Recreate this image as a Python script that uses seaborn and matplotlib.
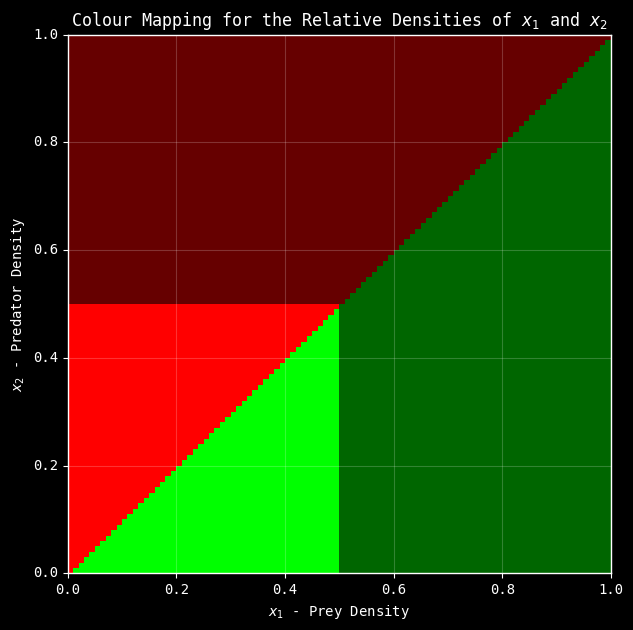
import numpy as np
import matplotlib
matplotlib.use("Agg")
import matplotlib.pyplot as plt
from matplotlib.colors import ListedColormap
import seaborn as sns

# grid of relative densities
n_cells = 100
x1 = np.linspace(0, 1, n_cells)  # prey density
x2 = np.linspace(0, 1, n_cells)  # predator density
threshold = 0.5

# colour for each region: 0 bright red, 1 dark red, 2 bright green, 3 dark green
region_colours = ["#ff0000", "#660000", "#00ff00", "#006600"]

tick_values = [0.0, 0.2, 0.4, 0.6, 0.8, 1.0]

X1, X2 = np.meshgrid(x1, x2)
region = np.where(
    X2 >= X1,
    np.where(X2 >= threshold, 1, 0),
    np.where(X1 >= threshold, 3, 2),
)

sns.set_theme(style="dark")
plt.style.use("dark_background")
plt.rcParams["font.family"] = ["DejaVu Sans Mono"]

fig, ax = plt.subplots(figsize=(6.33, 6.3), dpi=100)
sns.heatmap(region, cmap=ListedColormap(region_colours), vmin=-0.5, vmax=3.5,
            cbar=False, ax=ax, linewidths=0, rasterized=True)

ax.set_xlim(0, n_cells)
ax.set_ylim(0, n_cells)
ticks_pos = [v * n_cells for v in tick_values]
ax.set_xticks(ticks_pos)
ax.set_xticklabels([f"{v:.1f}" for v in tick_values], rotation=0)
ax.set_yticks(ticks_pos)
ax.set_yticklabels([f"{v:.1f}" for v in tick_values], rotation=0)
ax.tick_params(colors="white", labelsize=10, length=3.5, width=0.8,
               bottom=True, left=True)
for sp in ax.spines.values():
    sp.set_visible(True)
    sp.set_color("white")
    sp.set_linewidth(1)
ax.grid(True, color="white", alpha=0.2, linewidth=0.8)
ax.set_axisbelow(False)

ax.set_title("Colour Mapping for the Relative Densities of $x_1$ and $x_2$",
             fontsize=12, color="white")
ax.set_xlabel("$x_1$ - Prey Density", fontsize=10, color="white")
ax.set_ylabel("$x_2$ - Predator Density", fontsize=10, color="white")

fig.subplots_adjust(left=0.107, right=0.965, bottom=0.09, top=0.945)
fig.savefig("out.png", dpi=100, facecolor="black")
